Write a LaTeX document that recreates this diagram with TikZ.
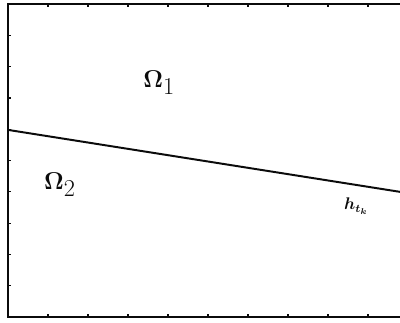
\documentclass[tikz,border=0pt]{standalone}
\usepackage{amsmath}
\usepackage{xcolor}
\usepackage{tikz}
\usetikzlibrary{positioning,calc}
\definecolor{ink}{HTML}{0B0B0B}

\begin{document}
\begin{tikzpicture}[x=1cm,y=0.7825cm]
  \useasboundingbox (-0.2,-0.16) rectangle (9.8,10.13);
  \clip (-0.2,-0.16) rectangle (9.8,10.13);
  \draw[ink,line width=1.1pt] (0,0) rectangle (10,10);
  \foreach \i in {1,...,9}{
    \draw[ink,line width=0.8pt] (\i,0)--(\i,0.1);
    \draw[ink,line width=0.8pt] (\i,10)--(\i,9.9);
    \draw[ink,line width=0.8pt] (0,\i)--(0.08,\i);
  }
  \coordinate (left) at (0,5.98);
  \coordinate (right) at (10,3.96);
  \draw[ink,line width=1.4pt] (left)--(right);
  \node[font=\LARGE,color=ink] (om1) at (3.78,7.5) {$\boldsymbol{\Omega}_{\textstyle 1}$};
  \node[font=\LARGE,color=ink] (om2) at (1.3,4.22) {$\boldsymbol{\Omega}_{\textstyle 2}$};
  \node[font=\large,color=ink] (h) at (8.7,3.55) {$\boldsymbol{h_{t_k}}$};
\end{tikzpicture}
\end{document}
